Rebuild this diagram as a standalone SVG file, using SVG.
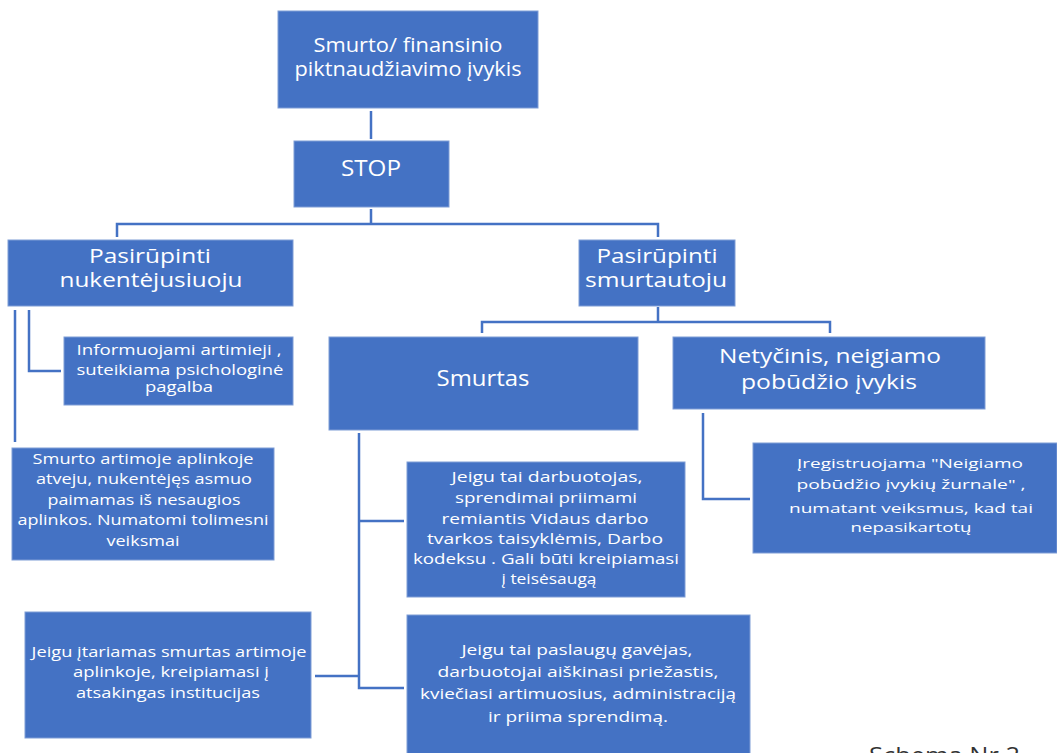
<svg xmlns="http://www.w3.org/2000/svg" width="1057" height="753" viewBox="0 0 1057 753">
<style>
.box{fill:#4472C4;stroke:#7e9dd6;stroke-width:1}
.t{font-family:"Open Sans","Noto Sans","Liberation Sans",sans-serif;fill:#ffffff;text-anchor:middle}
.lg{font-size:20px}
.xl{font-size:20.5px}
.sm{font-size:14px}
.cn{fill:none;stroke:#4472C4;stroke-width:2.5}
</style>
<rect width="1057" height="753" fill="#ffffff"/>
<g id="connectors">
<path class="cn" d="M371 111 V139"/>
<path class="cn" d="M371 209 V224 M117 237 V224 H658 V237"/>
<path class="cn" d="M15 310 V442 M29 310 V371 H61"/>
<path class="cn" d="M658 307 V322 M482 333 V322 H830 V333"/>
<path class="cn" d="M359 433 V688 H404 M359 521 H404 M315 676 H359"/>
<path class="cn" d="M703 413 V499 H750"/>
</g>
<g id="n-event">
<rect class="box" x="278" y="11" width="260" height="97"/>
<text class="t lg" x="408" y="52" textLength="189" lengthAdjust="spacingAndGlyphs">Smurto/ finansinio</text>
<text class="t lg" x="408" y="76" textLength="227" lengthAdjust="spacingAndGlyphs">piktnaudžiavimo įvykis</text>
</g>
<g id="n-stop">
<rect class="box" x="294" y="141" width="155" height="66"/>
<text class="t" style="font-size:21px" x="371" y="176" textLength="60" lengthAdjust="spacingAndGlyphs">STOP</text>
</g>
<g id="n-victim">
<rect class="box" x="8" y="240" width="285" height="66"/>
<text class="t xl" x="150" y="263" textLength="122" lengthAdjust="spacingAndGlyphs">Pasirūpinti</text>
<text class="t xl" x="151" y="287" textLength="183" lengthAdjust="spacingAndGlyphs">nukentėjusiuoju</text>
</g>
<g id="n-abuser">
<rect class="box" x="579" y="240" width="156" height="66"/>
<text class="t xl" x="657" y="263" textLength="121" lengthAdjust="spacingAndGlyphs">Pasirūpinti</text>
<text class="t xl" x="656" y="287" textLength="142" lengthAdjust="spacingAndGlyphs">smurtautoju</text>
</g>
<g id="n-inform">
<rect class="box" x="64" y="337" width="229" height="68"/>
<text class="t sm" x="179" y="355" textLength="205" lengthAdjust="spacingAndGlyphs">Informuojami artimieji ,</text>
<text class="t sm" x="180" y="375" textLength="207" lengthAdjust="spacingAndGlyphs">suteikiama psichologinė</text>
<text class="t sm" x="179" y="392" textLength="68" lengthAdjust="spacingAndGlyphs">pagalba</text>
</g>
<g id="n-domestic">
<rect class="box" x="12" y="448" width="262" height="112"/>
<text class="t" style="font-size:15px" x="143" y="464" textLength="221" lengthAdjust="spacingAndGlyphs">Smurto artimoje aplinkoje</text>
<text class="t" style="font-size:15px" x="144" y="484" textLength="216" lengthAdjust="spacingAndGlyphs">atveju, nukentėjęs asmuo</text>
<text class="t" style="font-size:15px" x="144" y="505" textLength="193" lengthAdjust="spacingAndGlyphs">paimamas iš nesaugios</text>
<text class="t" style="font-size:15px" x="143" y="525" textLength="251" lengthAdjust="spacingAndGlyphs">aplinkos. Numatomi tolimesni</text>
<text class="t" style="font-size:15px" x="143" y="546" textLength="73" lengthAdjust="spacingAndGlyphs">veiksmai</text>
</g>
<g id="n-violence">
<rect class="box" x="329" y="337" width="309" height="93"/>
<text class="t" style="font-size:22px" x="483" y="386" textLength="93" lengthAdjust="spacingAndGlyphs">Smurtas</text>
</g>
<g id="n-accident">
<rect class="box" x="673" y="337" width="312" height="72"/>
<text class="t lg" x="830" y="363" textLength="222" lengthAdjust="spacingAndGlyphs">Netyčinis, neigiamo</text>
<text class="t lg" x="829" y="389" textLength="176" lengthAdjust="spacingAndGlyphs">pobūdžio įvykis</text>
</g>
<g id="n-register">
<rect class="box" x="753" y="443" width="304" height="110"/>
<text class="t" style="font-size:13.5px" x="910" y="468" textLength="226" lengthAdjust="spacingAndGlyphs">Įregistruojama  "Neigiamo</text>
<text class="t" style="font-size:13.5px" x="911" y="489" textLength="229" lengthAdjust="spacingAndGlyphs">pobūdžio įvykių žurnale" ,</text>
<text class="t" style="font-size:13.5px" x="911" y="513" textLength="244" lengthAdjust="spacingAndGlyphs">numatant  veiksmus, kad tai</text>
<text class="t" style="font-size:13.5px" x="911" y="532" textLength="121" lengthAdjust="spacingAndGlyphs">nepasikartotų</text>
</g>
<g id="n-employee">
<rect class="box" x="407" y="462" width="278" height="135"/>
<text class="t sm" x="547" y="482" textLength="191" lengthAdjust="spacingAndGlyphs">Jeigu tai darbuotojas,</text>
<text class="t sm" x="546" y="503" textLength="182" lengthAdjust="spacingAndGlyphs">sprendimai  priimami</text>
<text class="t sm" x="545" y="524" textLength="207" lengthAdjust="spacingAndGlyphs">remiantis  Vidaus darbo</text>
<text class="t sm" x="545" y="544" textLength="236" lengthAdjust="spacingAndGlyphs">tvarkos taisyklėmis,  Darbo</text>
<text class="t sm" x="546" y="564" textLength="266" lengthAdjust="spacingAndGlyphs">kodeksu  . Gali būti kreipiamasi</text>
<text class="t sm" x="549" y="584" textLength="95" lengthAdjust="spacingAndGlyphs">į teisėsaugą</text>
</g>
<g id="n-suspected">
<rect class="box" x="25" y="612" width="286" height="126"/>
<text class="t sm" x="169" y="657" textLength="275" lengthAdjust="spacingAndGlyphs">Jeigu įtariamas smurtas artimoje</text>
<text class="t sm" x="171" y="677" textLength="196" lengthAdjust="spacingAndGlyphs">aplinkoje, kreipiamasi į</text>
<text class="t sm" x="168" y="698" textLength="184" lengthAdjust="spacingAndGlyphs">atsakingas institucijas</text>
</g>
<g id="n-client">
<rect class="box" x="407" y="615" width="343" height="140"/>
<text class="t sm" x="577" y="655" textLength="231" lengthAdjust="spacingAndGlyphs">Jeigu tai paslaugų gavėjas,</text>
<text class="t sm" x="578" y="677" textLength="281" lengthAdjust="spacingAndGlyphs">darbuotojai aiškinasi priežastis,</text>
<text class="t sm" x="578" y="699" textLength="316" lengthAdjust="spacingAndGlyphs">kviečiasi artimuosius, administraciją</text>
<text class="t sm" x="578" y="722" textLength="180" lengthAdjust="spacingAndGlyphs">ir priima sprendimą.</text>
</g>
<text x="869" y="763" font-family="Open Sans, Noto Sans, sans-serif" font-size="22" fill="#333333" textLength="151" lengthAdjust="spacingAndGlyphs">Schema Nr 2</text>
</svg>
